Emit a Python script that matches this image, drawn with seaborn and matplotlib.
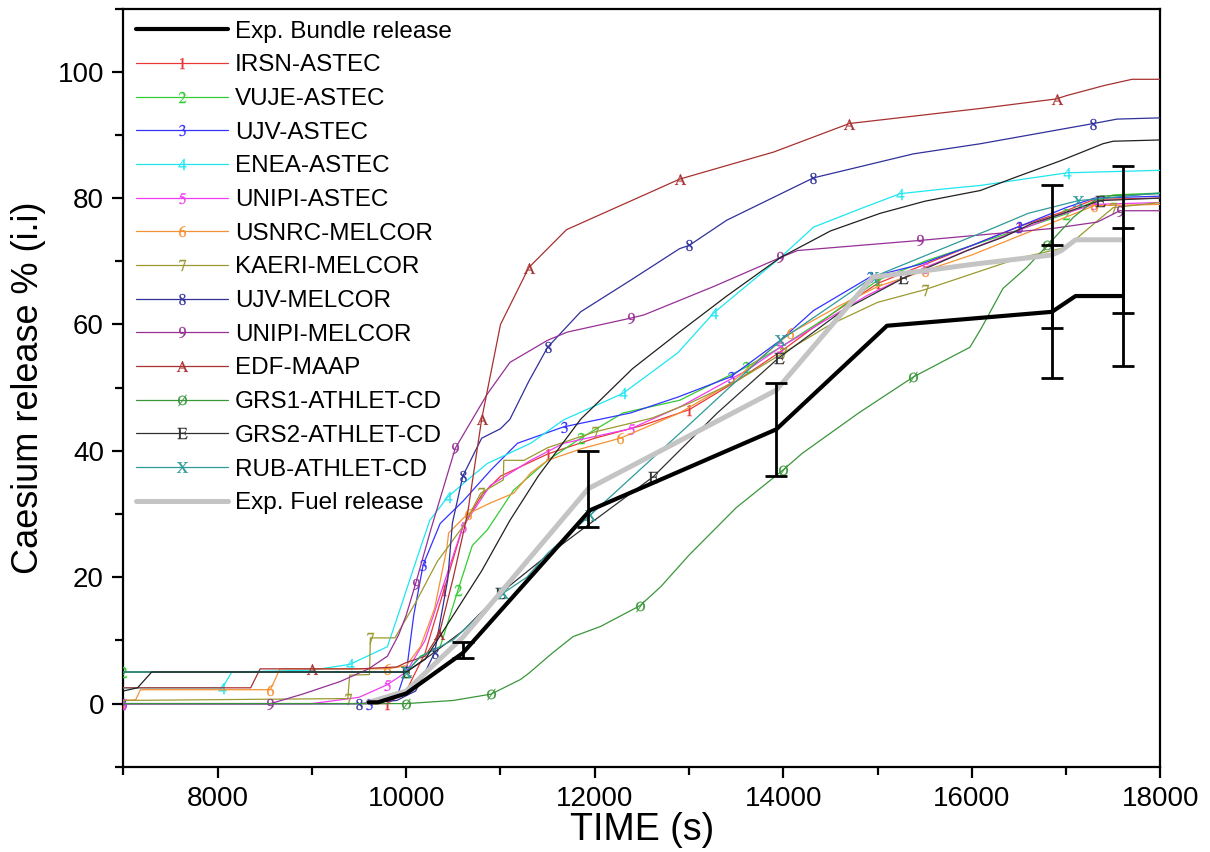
import numpy as np
import matplotlib
matplotlib.use('Agg')
import matplotlib.pyplot as plt
import seaborn as sns
from matplotlib.ticker import MultipleLocator
from matplotlib.legend_handler import HandlerLine2D

# ---- values (time in s, caesium release in %) ----
bundle_t = [9600, 9700, 10000, 10600, 11950, 13925, 15100, 16850, 17100, 17600]
bundle_v = [0.2, 0.2, 1.6, 8.0, 30.6, 43.4, 59.8, 62.0, 64.5, 64.5]

fuel_t = [9600, 10000, 10600, 11930, 13925, 14950, 15500, 16000, 16850, 16950, 17100, 17600]
fuel_v = [0.2, 2.0, 10.5, 34.0, 49.6, 67.5, 68.5, 69.5, 71.0, 71.7, 73.4, 73.4]

# error bars: time, centre, low, high
err_t = [10600, 11930, 13925, 16850, 16850, 17600, 17600]
err_c = [8.5, 34.0, 43.4, 62.0, 70.7, 64.5, 73.5]
err_lo = [7.2, 28.0, 36.0, 51.5, 59.4, 53.4, 61.8]
err_hi = [9.8, 40.0, 50.7, 72.5, 82.0, 75.2, 85.1]

irsn_t = [7000, 9800, 10000, 10200, 10400, 10600, 10800, 11000, 11500, 12000, 12500, 13000,
          13500, 14000, 14500, 15000, 15500, 16000, 16500, 17000, 17300, 18000]
irsn_v = [0, 0, 2, 8, 18, 28, 33, 36, 39.5, 42, 44, 46.5, 51, 56, 61.5, 66.5, 69.5, 72.5,
          75.5, 78, 79.8, 80]

vuje_t = [7000, 10000, 10150, 10360, 10550, 10700, 10860, 11140, 11500, 11850, 12300, 12900,
          13600, 13970, 14500, 15000, 15500, 16000, 16500, 17000, 17300, 17500, 18000]
vuje_v = [5, 5, 7.5, 9, 18, 25, 27.5, 33.8, 38.5, 42, 46, 48, 53.2, 56.4, 61.5, 67, 70,
          72.5, 75, 77.5, 79.5, 80.5, 80.8]

ujva_t = [7000, 9600, 9900, 10010, 10080, 10180, 10360, 10600, 10900, 11180, 11670, 12380,
          12880, 13440, 13970, 14320, 14920, 15450, 16000, 16500, 17000, 17300, 18000]
ujva_v = [0, 0, 1, 6, 14, 22, 28.5, 32, 37, 41.2, 43.8, 46, 48.5, 51.7, 57.5, 62.2, 67.5,
          69.5, 72.5, 75.5, 78.5, 80, 80.3]

enea_t = [7000, 8050, 8150, 9000, 9400, 9800, 9920, 10120, 10250, 10440, 10650, 10860, 11320,
          11670, 12300, 12880, 13260, 13970, 14320, 14850, 15240, 15740, 16090, 17010, 18000]
enea_v = [2.5, 2.5, 5, 5.3, 6.2, 9, 14.3, 23.3, 29, 32.7, 35.4, 38, 41.2, 44.9, 49.1, 55.5,
          61.8, 70.6, 75.4, 78.5, 80.7, 81.5, 82, 84, 84.4]

unia_t = [7000, 9000, 9500, 9800, 10000, 10200, 10400, 10600, 10890, 11320, 11670, 12380,
          12910, 13620, 13970, 14890, 15500, 16000, 16860, 17300, 18000]
unia_v = [0, 0, 1, 3, 5, 10, 19, 28, 34.5, 38.5, 41.2, 43.5, 47, 52.8, 56.4, 64.6, 69, 72,
          77, 79, 79.3]

usnrc_t = [7000, 7130, 7180, 8560, 8660, 9800, 10000, 10150, 10300, 10430, 10450, 10650,
           10900, 11140, 11320, 11500, 11850, 12270, 12900, 13440, 14070, 14600, 15000,
           15500, 16000, 16500, 17000, 17300, 18000]
usnrc_v = [0.5, 0.6, 2.2, 2.2, 5.5, 5.5, 6, 9, 15, 24.5, 27, 30, 31.8, 33.3, 36.5, 38.5,
           40.3, 42, 46, 50.7, 58.6, 63, 66, 68.5, 71, 74, 77, 78.8, 79]

kaeri_t = [7000, 9380, 9400, 9610, 9620, 9880, 10100, 10330, 10600, 10790, 11030, 11035,
           11250, 11500, 12000, 12610, 13000, 13500, 14000, 14500, 15000, 15500, 16000,
           16500, 17000, 17300, 17500, 18000]
kaeri_v = [0.5, 0.8, 4.5, 4.6, 10.4, 10.4, 16, 22.5, 28, 33.3, 35.4, 38.5, 38.5, 40.5, 43,
           45.2, 47.5, 51, 55.5, 60, 63.5, 65.5, 68, 70.5, 72.2, 76, 78.5, 79.3]

ujvm_t = [7000, 9500, 9900, 10100, 10300, 10440, 10490, 10600, 10800, 11000, 11100, 11300,
          11500, 11850, 12380, 12900, 13000, 13400, 14320, 15380, 16090, 17290, 17540, 18000]
ujvm_v = [0, 0, 0.5, 2, 8, 19.6, 28.6, 36, 42, 43.5, 45, 51, 56.4, 62, 67, 72, 72.5, 76.5,
          83.2, 87, 88.6, 91.8, 92.5, 92.7]

unim_t = [7000, 8560, 8900, 9300, 9600, 9800, 9920, 10000, 10100, 10260, 10520, 10860, 11100,
          11500, 11710, 12380, 12520, 13260, 13970, 14150, 15450, 16860, 17330, 17570, 18000]
unim_v = [0, 0, 1.5, 3.5, 5.5, 7.5, 10.9, 14, 19, 27.5, 40.4, 49, 54, 57.5, 58.8, 61, 61.5,
          66, 70.6, 71.7, 73.3, 75.2, 76.2, 78, 78]

edf_t = [7000, 8350, 8450, 9000, 9500, 9900, 10000, 10200, 10350, 10500, 10650, 10800, 11000,
         11300, 11700, 12000, 12900, 13900, 14700, 15400, 16100, 16900, 17000, 17400, 17700,
         18000]
edf_v = [2.5, 2.5, 5.5, 5.5, 5.5, 5.8, 6.5, 7.5, 11, 20, 30, 45, 60, 69, 75, 77, 83, 87.3,
         91.8, 93, 94.2, 95.7, 96.2, 97.8, 98.8, 98.8]

grs1_t = [7000, 10000, 10500, 10900, 11210, 11300, 11550, 11770, 12060, 12480, 12700, 13000,
          13500, 14000, 14200, 14800, 15380, 15980, 16100, 16330, 16580, 16800, 17080, 17360,
          18000]
grs1_v = [0, 0, 0.5, 1.5, 3.8, 4.8, 8, 10.6, 12.2, 15.5, 18.5, 23.5, 31, 37, 39.6, 46, 51.7,
          56.4, 59.4, 65.7, 69, 72.5, 77, 80.3, 80.7]

grs2_t = [7000, 10000, 10260, 10600, 11000, 11500, 11950, 12620, 13300, 13950, 14630, 15270,
          15950, 16330, 16640, 16850, 17360, 18000]
grs2_v = [5, 5, 7.7, 11.5, 17.5, 23.5, 28.5, 35.9, 46, 54.7, 62.2, 67.3, 71.7, 73.8, 76, 77,
          79.6, 80]

rub_t = [7000, 10000, 10150, 10500, 11030, 11280, 11500, 11950, 12940, 13970, 14950, 15950,
         16170, 16600, 17130, 17910, 18000]
rub_v = [5, 5, 7.4, 10.1, 17.5, 20, 23.8, 29.8, 43.3, 57.5, 67.5, 73.6, 74.9, 77.6, 79.6,
         80.7, 80.8]

# unlabelled thin black curve
other_t = [7000, 7150, 7300, 10000, 10200, 10500, 10800, 11100, 11400, 11850, 12400, 12880,
           13400, 13970, 14500, 15030, 15500, 16090, 16500, 16940, 17390, 17500, 18000]
other_v = [2, 2.5, 5, 5, 7, 14, 21, 29, 36, 45, 53, 58.6, 64.5, 70.6, 74.8, 77.6, 79.5,
           81.2, 83.5, 85.9, 88.6, 89, 89.2]

model_names = ['IRSN-ASTEC', 'VUJE-ASTEC', 'UJV-ASTEC', 'ENEA-ASTEC', 'UNIPI-ASTEC',
               'USNRC-MELCOR', 'KAERI-MELCOR', 'UJV-MELCOR', 'UNIPI-MELCOR', 'EDF-MAAP',
               'GRS1-ATHLET-CD', 'GRS2-ATHLET-CD', 'RUB-ATHLET-CD']
model_data = [(irsn_t, irsn_v), (vuje_t, vuje_v), (ujva_t, ujva_v), (enea_t, enea_v),
              (unia_t, unia_v), (usnrc_t, usnrc_v), (kaeri_t, kaeri_v), (ujvm_t, ujvm_v),
              (unim_t, unim_v), (edf_t, edf_v), (grs1_t, grs1_v), (grs2_t, grs2_v),
              (rub_t, rub_v)]

# ---- styles ----
colors = ['#e8383a', '#33cc33', '#3333ff', '#1ee6f0', '#f03cf0', '#f59233', '#9a9a30',
          '#30309a', '#963096', '#a83030', '#3a963a', '#303030', '#2e9a9a']
marks = ['1', '2', '3', '4', '5', '6', '7', '8', '9', 'A', 'Ø', 'E', 'X']

sns.set_theme(style='ticks')
plt.rcParams['font.family'] = ['Liberation Sans', 'DejaVu Sans']
plt.rcParams['mathtext.fontset'] = 'stix'
for k in ['text.color', 'axes.labelcolor', 'xtick.color', 'ytick.color', 'axes.edgecolor']:
    plt.rcParams[k] = 'black'

fig, ax = plt.subplots(figsize=(12.1, 8.52), dpi=100)
fig.subplots_adjust(left=0.102, right=0.959, bottom=0.1, top=0.99)

sns.lineplot(x=bundle_t, y=bundle_v, ax=ax, color='black', lw=3.0, sort=False,
             label='Exp. Bundle release', zorder=6)

for i, (name, (t, v)) in enumerate(zip(model_names, model_data)):
    sns.lineplot(x=t, y=v, ax=ax, color=colors[i], lw=0.9, sort=False,
                 marker='$\\mathrm{%s}$' % marks[i], markersize=8,
                 markevery=(0.02 + 0.013 * i, 0.14), mfc=colors[i], mec=colors[i],
                 mew=0.2, label=name, zorder=3)

sns.lineplot(x=other_t, y=other_v, ax=ax, color='#202020', lw=0.9, sort=False,
             label='_nolegend_', zorder=3)

sns.lineplot(x=fuel_t, y=fuel_v, ax=ax, color='#c4c4c4', lw=3.6, sort=False,
             label='Exp. Fuel release', zorder=4)

err_c = np.array(err_c)
ax.errorbar(err_t, err_c, yerr=[err_c - np.array(err_lo), np.array(err_hi) - err_c],
            fmt='none', ecolor='black', elinewidth=2.0, capsize=8, capthick=2.0, zorder=7)

ax.set_xlim(7000, 18000)
ax.set_ylim(-10, 110)
ax.set_xticks(range(8000, 18001, 2000))
ax.set_yticks(range(0, 101, 20))
ax.xaxis.set_minor_locator(MultipleLocator(1000))
ax.yaxis.set_minor_locator(MultipleLocator(10))
ax.tick_params(which='major', direction='out', length=8, width=1.6, labelsize=20, pad=6)
ax.tick_params(which='minor', direction='out', length=6, width=1.6)
ax.tick_params(top=False, right=False)
for s in ax.spines.values():
    s.set_linewidth(1.6)
    s.set_color('black')

ax.set_xlabel('TIME (s)', fontsize=27, labelpad=0)
ax.set_ylabel('Caesium release % (i.i)', fontsize=26, labelpad=8)


def centre_marker(legline, orig):
    # one marker in the middle of each legend handle
    legline.update_from(orig)
    legline.set_markevery([1])


leg = ax.legend(loc='upper left', frameon=False, fontsize=17.5, handlelength=3.8,
                handletextpad=0.3, labelspacing=0.48, borderaxespad=0.3,
                borderpad=0.2, numpoints=1,
                handler_map={matplotlib.lines.Line2D: HandlerLine2D(numpoints=1,
                                                                    update_func=centre_marker)})

fig.savefig('out.png', dpi=100)
